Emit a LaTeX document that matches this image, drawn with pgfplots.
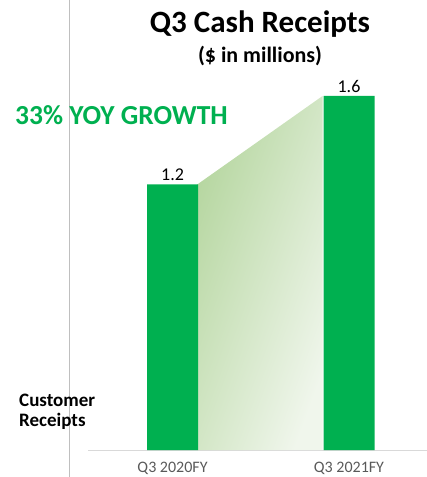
\documentclass[border=0pt]{standalone}
\usepackage{pgfplots}
\pgfplotsset{compat=1.18}
\usepackage{fontspec}
\setmainfont{Carlito}
\definecolor{bargreen}{HTML}{00B050}
\definecolor{shadegreen}{HTML}{B5D69F}
\definecolor{shadelight}{HTML}{F0F6EC}
\definecolor{ticktext}{HTML}{595959}
\definecolor{divider}{HTML}{BFBFBF}
\definecolor{baseline}{HTML}{D9D9D9}
\begin{document}
\begin{tikzpicture}
\useasboundingbox (0pt,0pt) rectangle (427pt,477pt);
\draw[divider, line width=1pt] (69pt,0pt) -- (69pt,477pt);
\begin{axis}[
  at={(88pt,27pt)}, anchor=south west,
  scale only axis, width=339pt, height=354pt,
  xmin=-0.479, xmax=1.442, ymin=0, ymax=1.6,
  clip=false,
  axis x line=bottom, axis y line=none,
  x axis line style={-, draw=baseline, line width=1pt},
  xtick={0,1}, xticklabels={Q3 2020FY, Q3 2021FY},
  xtick style={draw=none},
  xticklabel style={font=\fontsize{16}{16}\selectfont, text=ticktext, anchor=base, yshift=-20pt},
  /pgf/number format/assume math mode=true,
]
% growth area between the bar tops
\addplot[draw=none, top color=shadegreen, bottom color=shadelight, shading angle=70]
  coordinates {(0.14,1.2) (0.85,1.6)} \closedcycle;
% bars
\addplot[ybar, bar width=51pt, bar shift=0pt, fill=bargreen, draw=none,
  nodes near coords, every node near coord/.append style={font=\fontsize{18}{18}\selectfont, text=black}]
  coordinates {(0,1.2) (1,1.6)};
\end{axis}
\node[anchor=base, font=\bfseries\fontsize{31}{31}\selectfont] at (260pt,444pt) {Q3 Cash Receipts};
\node[anchor=base, font=\bfseries\fontsize{22}{22}\selectfont] at (260pt,414pt) {(\$ in millions)};
\node[anchor=base west, inner sep=0pt, text=bargreen, font=\bfseries\fontsize{27.5}{27.5}\selectfont] at (15pt,352pt) {33\% YOY GROWTH};
\node[anchor=base west, inner sep=0pt, font=\bfseries\fontsize{19}{19}\selectfont] at (19pt,70pt) {Customer};
\node[anchor=base west, inner sep=0pt, font=\bfseries\fontsize{19}{19}\selectfont] at (19pt,50pt) {Receipts};
\end{tikzpicture}
\end{document}
